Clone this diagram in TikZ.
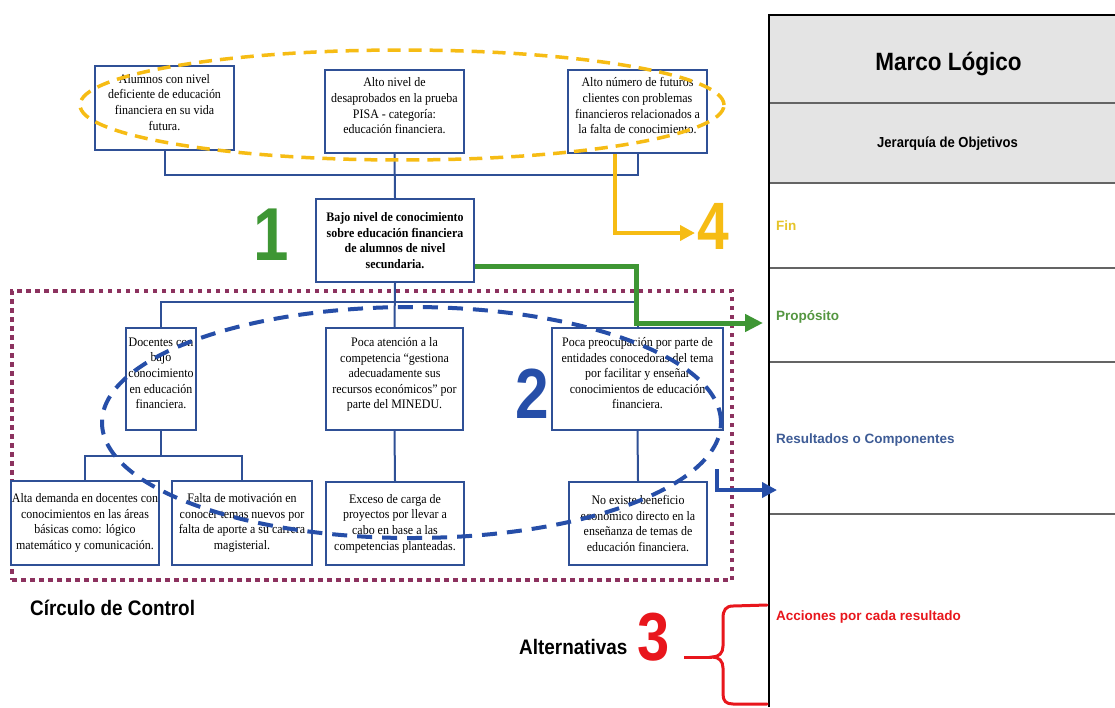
\documentclass[tikz,border=0pt]{standalone}
\usepackage{fontspec}
\setmainfont{Liberation Serif}
\newfontfamily\boxserif[FakeStretch=0.92]{Liberation Serif}
\newfontfamily\sansf{Liberation Sans}
\newfontfamily\narrowf[FakeStretch=0.9]{Liberation Sans}
\newfontfamily\numf[FakeStretch=0.85]{Liberation Sans}
\usetikzlibrary{arrows.meta,shapes.geometric}
\definecolor{boxblue}{RGB}{47,80,150}
\definecolor{dotmaroon}{RGB}{140,50,95}
\definecolor{ygold}{RGB}{246,188,20}
\definecolor{ggreen}{RGB}{62,150,52}
\definecolor{bblue}{RGB}{38,78,168}
\definecolor{rred}{RGB}{232,22,28}
\definecolor{hdrgray}{RGB}{228,228,228}
\definecolor{rowline}{RGB}{100,100,100}
\definecolor{finy}{RGB}{230,196,40}
\definecolor{propg}{RGB}{84,150,64}
\definecolor{resb}{RGB}{62,92,150}
\newcommand{\boxlift}{\\[-4pt]\mbox{}}
\tikzset{
  box/.style={draw=boxblue, line width=2pt, fill=white, align=center, inner sep=0.5pt,
    font=\boxserif\fontsize{13}{15.6}\selectfont},
  link/.style={draw=boxblue, line width=2pt},
  bignum/.style={inner sep=0pt, font=\numf\bfseries\fontsize{#1}{#1}\selectfont},
  rowlabel/.style={anchor=base west, inner sep=0pt, font=\sansf\bfseries\fontsize{13.5}{13.5}\selectfont},
  narrowlabel/.style={inner sep=0pt, font=\narrowf\bfseries\fontsize{#1}{#1}\selectfont},
  yarrow/.style={draw=ygold, line width=4pt, -{Triangle[length=15pt,width=15pt]}},
  garrow/.style={draw=ggreen, line width=5pt, -{Triangle[length=18pt,width=17pt]}},
  barrow/.style={draw=bblue, line width=4pt, -{Triangle[length=15pt,width=15pt]}},
  rowsep/.style={draw=rowline, line width=1.5pt},
}
\begin{document}
\begin{tikzpicture}[x=1pt,y=-1pt]
\useasboundingbox (0,0) rectangle (1115,707);
\fill[white] (0,0) rectangle (1115,707);

% ---------- table (Marco Logico) ----------
\fill[hdrgray] (769,15) rectangle (1115,183);
\draw[rowsep] (769,103) -- (1115,103);
\draw[rowsep] (769,183) -- (1115,183);
\draw[rowsep] (769,268) -- (1115,268);
\draw[rowsep] (769,362) -- (1115,362);
\draw[rowsep] (769,514) -- (1115,514);
\draw[black, line width=2.5pt] (769,707) -- (769,15) -- (1115,15);
\node[narrowlabel=25, anchor=base] (ml) at (948.5,70) {Marco Lógico};
\node[narrowlabel=14.5, anchor=base] (jo) at (947.5,147) {Jerarquía de Objetivos};
\node[rowlabel, text=finy] (fin) at (776,230) {Fin};
\node[rowlabel, text=propg] (prop) at (776,320) {Propósito};
\node[rowlabel, text=resb] (resu) at (776,443) {Resultados o Componentes};
\node[rowlabel, text=rred] (acc) at (776,620) {Acciones por cada resultado};

% ---------- control circle (dotted) ----------
\node[draw=dotmaroon, line width=4pt, dash pattern=on 4.5pt off 4.5pt,
  minimum width=720pt, minimum height=289pt, inner sep=0pt] (ctrl) at (372,435.5) {};

% ---------- boxes ----------
\node[box, minimum width=139pt, minimum height=84pt] (A) at (164.5,108)
  {Alumnos con nivel\\deficiente de educación\\financiera en su vida\\futura.\boxlift};
\node[box, minimum width=139pt, minimum height=83pt] (B) at (394.5,111.5)
  {Alto nivel de\\desaprobados en la prueba\\PISA - categoría:\\educación financiera.\boxlift};
\node[box, minimum width=139pt, minimum height=83pt] (C) at (637.5,111.5)
  {Alto número de futuros\\clientes con problemas\\financieros relacionados a\\la falta de conocimiento.\boxlift};
\node[box, minimum width=158pt, minimum height=83pt, font=\boxserif\bfseries\fontsize{13}{15.6}\selectfont] (D) at (395,240.5)
  {Bajo nivel de conocimiento\\sobre educación financiera\\de alumnos de nivel\\secundaria.};
\node[box, minimum width=70pt, minimum height=102pt] (E) at (161,379)
  {Docentes con\\bajo\\conocimiento\\en educación\\financiera.\boxlift};
\node[box, minimum width=137pt, minimum height=102pt] (F) at (394.5,379)
  {Poca atención a la\\competencia “gestiona\\adecuadamente sus\\recursos económicos” por\\parte del MINEDU.\boxlift};
\node[box, minimum width=171pt, minimum height=102pt] (G) at (637.5,379)
  {Poca preocupación por parte de\\entidades conocedoras del tema\\por facilitar y enseñar\\conocimientos de educación\\financiera.\boxlift};
\node[box, minimum width=146pt, minimum height=84pt] (H) at (85,523)
  {Alta demanda en docentes con\\conocimientos en las áreas\\básicas como: lógico\\matemático y comunicación.};
\node[box, minimum width=140pt, minimum height=84pt] (I) at (242,523)
  {Falta de motivación en\\conocer temas nuevos por\\falta de aporte a su carrera\\magisterial.};
\node[box, minimum width=138pt, minimum height=83pt] (J) at (395,523.5)
  {Exceso de carga de\\proyectos por llevar a\\cabo en base a las\\competencias planteadas.};
\node[box, minimum width=138pt, minimum height=83pt] (K) at (638,523.5)
  {No existe beneficio\\económico directo en la\\enseñanza de temas de\\educación financiera.};

% ---------- tree connectors ----------
\draw[link] (A.south) -- ++(0,24) -| (C.south);
\draw[link] (B.south) -- (D.north);
\draw[link] (D.south) -- (F.north);
\draw[link] (E.north) -- ++(0,-25) -| (G.north);
\draw[link] (E.south) -- ++(0,25) coordinate (ejoin);
\draw[link] (H.north) |- (ejoin) -| (I.north);
\draw[link] (F.south) -- (J.north);
\draw[link] (G.south) -- (K.north);

% ---------- dashed ellipses ----------
\node[draw=ygold, line width=3.5pt, dash pattern=on 13pt off 8pt, ellipse,
  minimum width=644pt, minimum height=110pt, inner sep=0pt] (yell) at (402,105) {};
\node[draw=bblue, line width=4pt, dash pattern=on 15pt off 10pt, ellipse,
  minimum width=619pt, minimum height=231pt, inner sep=0pt] (bell) at (411.5,422.5) {};

% ---------- big numbers ----------
\node[bignum=75, text=ggreen] (n1) at (271,234.5) {1};
\node[bignum=71, text=bblue] (n2) at (532.5,394) {2};
\node[bignum=68, text=rred] (n3) at (654,637.5) {3};
\node[bignum=67, text=ygold] (n4) at (713,226) {4};

% ---------- labels ----------
\node[narrowlabel=21, anchor=base west] (circ) at (30,615) {Círculo de Control};
\node[narrowlabel=21, anchor=base west] (alt) at (519,654) {Alternativas};

% ---------- arrows to the table ----------
\coordinate (fintip) at (695,233);
\draw[yarrow] ([xshift=-22.5pt]C.south) |- (fintip);
\coordinate (gbend) at (636,300);
\coordinate (proptip) at (763,323);
\draw[garrow] ([yshift=17pt]D.south east) -| (gbend) |- (proptip);
\coordinate (bstart) at (717,469);
\coordinate (restip) at (777,490);
\draw[barrow] (bstart) |- (restip);

% ---------- red brace ----------
\coordinate (bracestub) at (684,657);
\coordinate (bracetip) at (712,657);
\draw[rred, line width=3pt] (bracestub) -- (bracetip);
\draw[rred, line width=3pt, line cap=round]
  (767,605) -- (733,606) .. controls (726,606) and (723,610) .. (723,618)
  -- (723,646) .. controls (723,653) and (719,657) .. (bracetip)
  .. controls (719,657) and (723,661) .. (723,668)
  -- (723,694) .. controls (723,701) and (726,704) .. (733,704) -- (767,704);
\end{tikzpicture}
\end{document}
